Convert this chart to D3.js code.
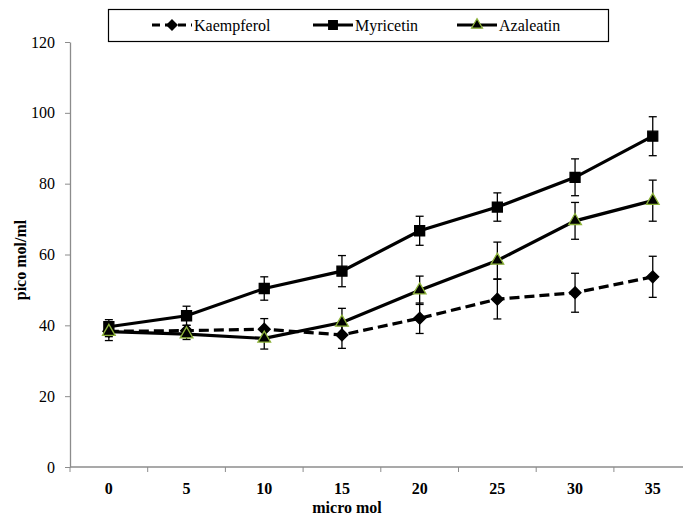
<!DOCTYPE html>
<html>
<head>
<meta charset="utf-8">
<script src="https://cdn.jsdelivr.net/npm/d3@7"></script>
<style>
  body { margin: 0; background: #fff; }
  svg { display: block; font-family: "Liberation Serif", "Times New Roman", serif; }
</style>
</head>
<body>
<svg id="chart" width="683" height="518"></svg>
<script>
// Data
const doses = ["0", "5", "10", "15", "20", "25", "30", "35"];
const yTicks = [0, 20, 40, 60, 80, 100, 120];

const kaempferol = [38.3, 38.5, 38.9, 37.3, 42.0, 47.4, 49.2, 53.7];
const kaempferolErr = [1.5, 1.5, 3.0, 3.8, 4.3, 5.6, 5.5, 5.8];

const myricetin = [39.6, 42.7, 50.4, 55.3, 66.7, 73.4, 81.8, 93.4];
const myricetinErr = [2.0, 2.7, 3.3, 4.4, 4.1, 4.0, 5.2, 5.5];

const azaleatin = [38.2, 37.5, 36.3, 40.8, 49.9, 58.3, 69.5, 75.2];
const azaleatinErr = [2.5, 1.5, 3.0, 4.0, 4.0, 5.2, 5.2, 5.8];

const series = [
  {name: "Kaempferol", values: kaempferol, err: kaempferolErr, dash: "10,5", symbol: d3.symbolDiamond2, size: 90, fill: "#000", stroke: "#000"},
  {name: "Myricetin", values: myricetin, err: myricetinErr, dash: null, symbol: d3.symbolSquare, size: 100, fill: "#000", stroke: "#000"},
  {name: "Azaleatin", values: azaleatin, err: azaleatinErr, dash: null, symbol: d3.symbolTriangle, size: 70, fill: "#000", stroke: "#8db33a"}
];

const svg = d3.select("#chart");
const margin = {top: 42, left: 70, bottom: 51};
const plotRight = 691.6;
const height = +svg.attr("height");

const x = d3.scaleBand()
  .domain(doses)
  .range([margin.left, plotRight])
  .padding(0);

const y = d3.scaleLinear()
  .domain([0, 120])
  .range([height - margin.bottom, margin.top]);

const axisColor = "#8c8c8c";

// Y axis
const yAxis = svg.append("g")
  .attr("transform", `translate(${margin.left},0)`)
  .call(d3.axisLeft(y).tickValues(yTicks).tickSize(5).tickPadding(10).tickSizeOuter(0));
yAxis.select(".domain").attr("stroke", axisColor).attr("stroke-width", 1.3);
yAxis.selectAll(".tick line").attr("stroke", axisColor);
yAxis.selectAll(".tick text")
  .attr("font-size", 16)
  .attr("font-family", "Liberation Serif")
  .attr("fill", "#000");

// X axis
svg.append("line")
  .attr("x1", margin.left).attr("x2", 683)
  .attr("y1", y(0)).attr("y2", y(0))
  .attr("stroke", axisColor).attr("stroke-width", 1.3);

svg.append("g").selectAll("line")
  .data(doses)
  .join("line")
  .attr("x1", d => x(d)).attr("x2", d => x(d))
  .attr("y1", y(0)).attr("y2", y(0) + 5)
  .attr("stroke", axisColor);

svg.append("g").selectAll("text")
  .data(doses)
  .join("text")
  .attr("x", d => x(d) + x.bandwidth() / 2)
  .attr("y", y(0) + 27)
  .attr("text-anchor", "middle")
  .attr("font-size", 16)
  .attr("font-weight", "bold")
  .text(d => d);

// Axis titles
svg.append("text")
  .attr("x", 347)
  .attr("y", 513)
  .attr("text-anchor", "middle")
  .attr("font-size", 16)
  .attr("font-weight", "bold")
  .text("micro mol");

svg.append("text")
  .attr("transform", `translate(26,260) rotate(-90)`)
  .attr("text-anchor", "middle")
  .attr("font-size", 16)
  .attr("font-weight", "bold")
  .text("pico mol/ml");

const cx = d => x(d) + x.bandwidth() / 2;

// Error bars
series.forEach(s => {
  const g = svg.append("g").attr("stroke", "#000").attr("stroke-width", 1.3);
  const rows = doses.map((d, i) => ({d, v: s.values[i], e: s.err[i]}));
  g.selectAll("line.v").data(rows).join("line")
    .attr("x1", r => cx(r.d)).attr("x2", r => cx(r.d))
    .attr("y1", r => y(r.v + r.e)).attr("y2", r => y(r.v - r.e));
  g.selectAll("line.top").data(rows).join("line").attr("class", "top")
    .attr("x1", r => cx(r.d) - 4).attr("x2", r => cx(r.d) + 4)
    .attr("y1", r => y(r.v + r.e)).attr("y2", r => y(r.v + r.e));
  g.selectAll("line.bot").data(rows).join("line").attr("class", "bot")
    .attr("x1", r => cx(r.d) - 4).attr("x2", r => cx(r.d) + 4)
    .attr("y1", r => y(r.v - r.e)).attr("y2", r => y(r.v - r.e));
});

// Lines and markers
const line = d3.line()
  .x(r => cx(r.d))
  .y(r => y(r.v));

series.forEach(s => {
  const rows = doses.map((d, i) => ({d, v: s.values[i]}));
  svg.append("path")
    .datum(rows)
    .attr("fill", "none")
    .attr("stroke", "#000")
    .attr("stroke-width", 3.2)
    .attr("stroke-dasharray", s.dash)
    .attr("d", line);
  svg.append("g").selectAll("path")
    .data(rows)
    .join("path")
    .attr("transform", r => `translate(${cx(r.d)},${y(r.v)})`)
    .attr("d", d3.symbol().type(s.symbol).size(s.size))
    .attr("fill", s.fill)
    .attr("stroke", s.stroke)
    .attr("stroke-width", 1.3);
});

// Legend
const legend = svg.append("g");
legend.append("rect")
  .attr("x", 108.5).attr("y", 9.5)
  .attr("width", 500).attr("height", 32)
  .attr("fill", "#fff")
  .attr("stroke", "#000")
  .attr("stroke-width", 1.2);

const legendX = [152, 313, 457];
series.forEach((s, i) => {
  const lg = legend.append("g").attr("transform", `translate(${legendX[i]},25)`);
  lg.append("line")
    .attr("x1", 0).attr("x2", 40)
    .attr("stroke", "#000").attr("stroke-width", 3.2)
    .attr("stroke-dasharray", s.dash ? "8,5" : null);
  lg.append("path")
    .attr("transform", "translate(20,0)")
    .attr("d", d3.symbol().type(s.symbol).size(s.size * 0.75))
    .attr("fill", s.fill)
    .attr("stroke", s.stroke)
    .attr("stroke-width", 1.2);
  lg.append("text")
    .attr("x", 42)
    .attr("dy", "0.35em")
    .attr("font-size", 16)
    .text(s.name);
});
</script>
</body>
</html>
